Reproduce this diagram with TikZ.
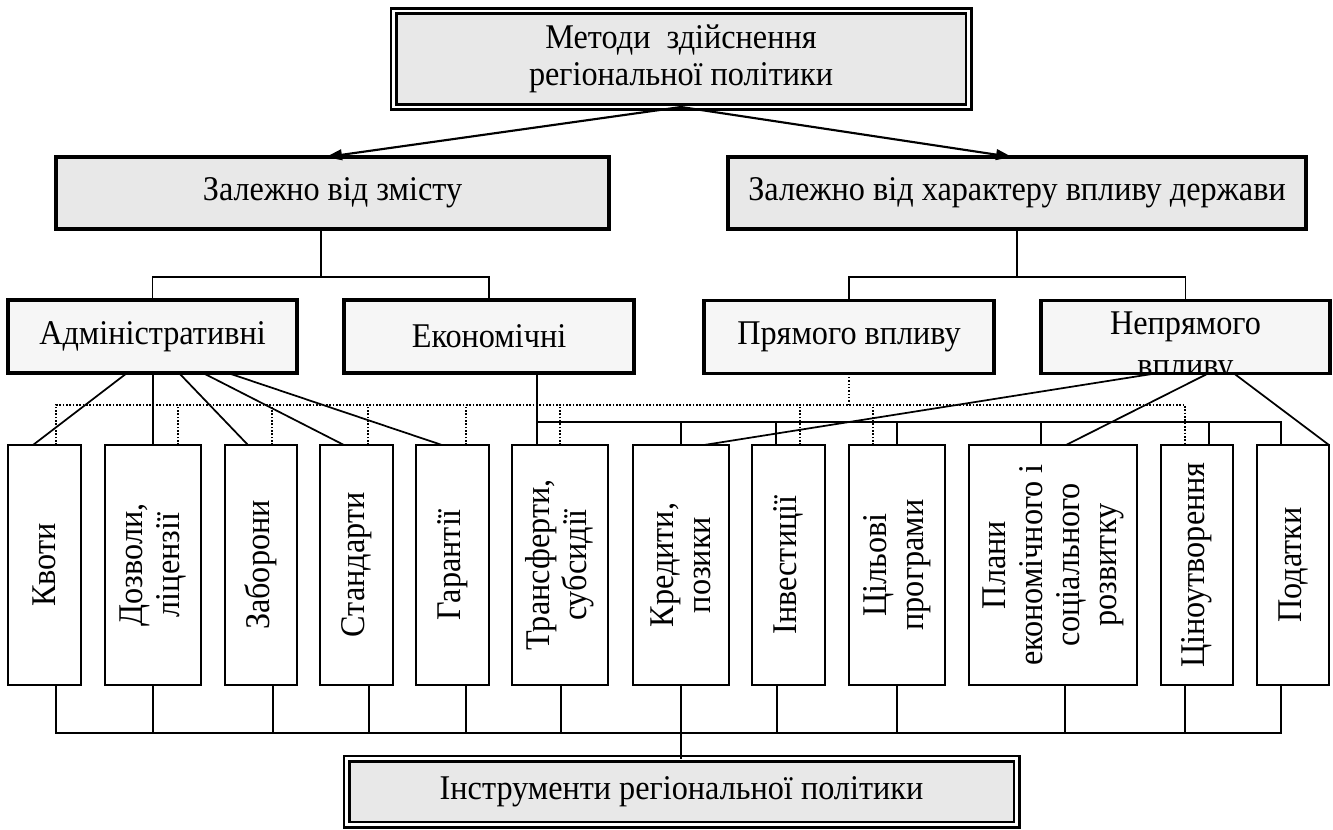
\documentclass[tikz,border=0pt]{standalone}
\usepackage{fontspec}
\setmainfont[FakeStretch=0.93]{Liberation Serif}
\usetikzlibrary{arrows.meta}
\definecolor{headfill}{RGB}{232,232,232}
\definecolor{groupfill}{RGB}{246,246,246}

\begin{document}
\begin{tikzpicture}[x=0.75pt,y=-0.75pt,
  every node/.style={font=\fontsize{26}{27.75}\selectfont, inner sep=0pt, outer sep=0pt},
  dblbox/.style={draw, line width=1.9pt, double=white, double distance=2.2pt, fill=headfill, align=center},
  headbox/.style={draw, line width=2.4pt, fill=headfill, minimum height=54pt},
  groupbox/.style={draw, line width=2.4pt, fill=groupfill, minimum height=54.75pt},
  toolbox/.style={draw, line width=1.5pt, fill=white, minimum height=180pt},
  vtext/.style={rotate=90, align=center},
  conn/.style={line width=1.3pt},
  dotconn/.style={line width=1.3pt, dash pattern=on 1.2pt off 1.3pt},
  arr/.style={line width=1.6pt, -{Triangle[length=12pt,width=8pt]}}
]
\useasboundingbox (0,0) rectangle (1333,829);

% --- top and second level -------------------------------------------------
\node[dblbox, minimum width=431.25pt, minimum height=72pt] (top) at (681,59)
  {Методи~ здійснення\\регіональної політики};
\node[headbox, minimum width=414.75pt] (zz) at (332.5,193) {Залежно від змісту};
\node[headbox, minimum width=433.5pt] (zx) at (1017,193) {Залежно від характеру впливу держави};

\draw[arr] (top.south) -- (zz.north -| 326,0);
\draw[arr] (top.south) -- (zx.north -| 1012,0);

% --- method groups ----------------------------------------------------------
\node[groupbox, minimum width=216.75pt] (adm) at (152.5,336.5) {Адміністративні};
\node[groupbox, minimum width=217.5pt] (ek) at (489,336.5) {Економічні};
\node[groupbox, minimum width=217.5pt] (pr) at (849,337) {Прямого впливу};
\node[groupbox, minimum width=216.75pt] (nep) at (1185.5,337) {};
% the second line runs into the lower border and is cut by it
\begin{scope}
  \clip ([xshift=1.2pt,yshift=1.2pt]nep.south west) rectangle ([xshift=-1.2pt,yshift=-1.2pt]nep.north east);
  \node[align=center, anchor=base, font=\fontsize{26}{31.5}\selectfont] (neptext) at (1185.5,376) {Непрямого\\впливу};
\end{scope}

\draw[conn] (zz.south -| 321,0) -- (321,277);
\draw[conn] (adm.north) -- (adm.north |- 0,277) -| (ek.north);
\draw[conn] (zx.south) -- (zx.south |- 0,277);
\draw[conn] (pr.north) -- (pr.north |- 0,277) -| (nep.north);

% --- instruments -------------------------------------------------------------
\node[toolbox, minimum width=54.75pt, label={[vtext]center:Квоти}] (kv) at (44.5,565) {};
\node[toolbox, minimum width=72pt, label={[vtext]center:{Дозволи,\\ліцензії}}] (dz) at (153,565) {};
\node[toolbox, minimum width=54pt, label={[vtext]center:Заборони}] (zb) at (261,565) {};
\node[toolbox, minimum width=54.75pt, label={[vtext]center:Стандарти}] (st) at (356.5,565) {};
\node[toolbox, minimum width=54.75pt, label={[vtext]center:Гарантії}] (gr) at (452.5,565) {};
\node[toolbox, minimum width=72pt, label={[vtext]center:{Трансферти,\\субсидії}}] (tr) at (560,565) {};
\node[toolbox, minimum width=72pt, label={[vtext]center:{Кредити,\\позики}}] (kr) at (681,565) {};
\node[toolbox, minimum width=54.75pt, label={[vtext]center:Інвестиції}] (in) at (788.5,565) {};
\node[toolbox, minimum width=72pt, label={[vtext]center:{Цільові\\програми}}] (cp) at (897,565) {};
\node[toolbox, minimum width=126pt, label={[vtext]center:{Плани\\економічного і\\соціального\\розвитку}}] (pl) at (1053,565) {};
\node[toolbox, minimum width=54pt, label={[vtext]center:Ціноутворення}] (cn) at (1197,565) {};
\node[toolbox, minimum width=54pt, label={[vtext]center:Податки}] (pd) at (1293,565) {};

% administrative fan
\draw[conn] (adm.south -| 127,0) -- (kv.north -| 33,0);
\draw[conn] (adm.south -| 153,0) -- (dz.north -| 153,0);
\draw[conn] (adm.south -| 179,0) -- (zb.north -| 248,0);
\draw[conn] (adm.south -| 203,0) -- (st.north -| 344,0);
\draw[conn] (adm.south -| 228,0) -- (gr.north -| 442,0);

% economic bus
\coordinate (ebus) at (537,422);
\draw[conn] (ek.south -| 537,0) -- (tr.north -| 537,0);
\draw[conn] (ebus) -- (1281,422) -- (pd.north -| 1281,0);
\foreach \n/\x in {kr/681, in/776, cp/897, pl/1041, cn/1209}
  \draw[conn] (\n.north -| \x,0) -- (\x,422);

% direct influence (dotted bus)
\draw[dotconn] (pr.south) -- (pr.south |- 0,405);
\draw[dotconn] (kv.north -| 56,0) -- (56,405) -- (1185,405) -- (cn.north -| 1185,0);
\foreach \n/\x in {dz/178, zb/272, st/368, gr/466, tr/560, in/800, cp/873}
  \draw[dotconn] (\n.north -| \x,0) -- (\x,405);

% indirect influence fan
\draw[conn] (nep.south -| 1155,0) -- (kr.north -| 704,0);
\draw[conn] (nep.south -| 1208,0) -- (pl.north -| 1066,0);
\draw[conn] (nep.south -| 1234,0) -- (pd.north east);

% --- bottom collector ---------------------------------------------------------
\node[dblbox, minimum width=502.5pt, minimum height=49.5pt] (bot) at (681.5,791.5)
  {Інструменти регіональної політики};

\draw[conn] (kv.south -| 56,0) -- (56,733) -- (1281,733) -- (pd.south -| 1281,0);
\foreach \n/\x in {dz/153, zb/273, st/369, gr/466, tr/561, in/777, cp/897, pl/1065, cn/1185}
  \draw[conn] (\n.south -| \x,0) -- (\x,733);
\draw[conn] (kr.south) -- (kr.south |- bot.north);
\end{tikzpicture}
\end{document}
